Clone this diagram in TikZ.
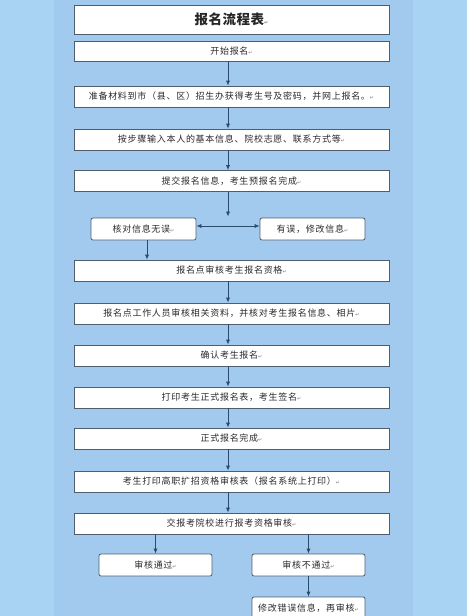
\documentclass[tikz,border=0pt]{standalone}
\usepackage{fontspec}
\usetikzlibrary{arrows.meta}
\newfontfamily\cjk[LetterSpace=8]{Noto Sans CJK SC}
\newfontfamily\cjkt[LetterSpace=4]{Noto Sans CJK SC}
\newfontfamily\symf{DejaVu Sans}
\definecolor{outerbg}{HTML}{A9D3F3}
\definecolor{innerbg}{HTML}{A2CAEE}
\definecolor{bordercol}{HTML}{4E5E6E}
\definecolor{arrcol}{HTML}{2C4A6B}
\definecolor{txtcol}{HTML}{2A2A2A}
\newcommand\retmark{{\symf\fontsize{5}{5}\selectfont\color{gray}↵}}
\begin{document}
\begin{tikzpicture}[x=1pt,y=-1pt,
  box/.style={draw=bordercol, line width=0.8pt, fill=white, inner sep=0pt,
    font=\cjk\fontsize{9}{10}\selectfont, text=txtcol},
  mainbox/.style={box, minimum width=315pt, minimum height=21pt},
  smallbox/.style={box, rounded corners=2pt, minimum width=105pt, minimum height=22pt},
  resbox/.style={box, rounded corners=2pt, minimum width=113pt, minimum height=22pt},
  arr/.style={draw=arrcol, line width=0.8pt, -{Latex[length=5pt,width=4.2pt]}},
  darr/.style={draw=arrcol, line width=0.8pt, {Latex[length=5pt,width=4.2pt]}-{Latex[length=5pt,width=4.2pt]}}]
\useasboundingbox (0,0) rectangle (467,616);
\clip (0,0) rectangle (467,616);
\fill[outerbg] (0,0) rectangle (467,616);
\fill[innerbg] (54,0) rectangle (413,616);

\node[mainbox, minimum height=29pt, font=\cjkt\bfseries\fontsize{13.5}{15}\selectfont, text=black!85] (title) at (231.5,19.5) {报名流程表\retmark};
\node[mainbox, minimum height=20pt] (start) at (231.5,51) {开始报名\retmark};
\node[mainbox] (prep) at (231.5,96.5) {准备材料到市（县、区）招生办获得考生号及密码，并网上报名。\retmark};
\node[mainbox] (input) at (231.5,139.5) {按步骤输入本人的基本信息、院校志愿、联系方式等\retmark};
\node[mainbox] (submit) at (231.5,181) {提交报名信息，考生预报名完成\retmark};
\node[smallbox] (ok) at (143.5,229) {核对信息无误\retmark};
\node[smallbox] (err) at (312.5,229) {有误，修改信息\retmark};
\node[mainbox] (check) at (231.5,270.5) {报名点审核考生报名资格\retmark};
\node[mainbox] (staff) at (231.5,313.5) {报名点工作人员审核相关资料，并核对考生报名信息、相片\retmark};
\node[mainbox] (confirm) at (231.5,355.5) {确认考生报名\retmark};
\node[mainbox] (print) at (231.5,397.5) {打印考生正式报名表，考生签名\retmark};
\node[mainbox] (done) at (231.5,438.5) {正式报名完成\retmark};
\node[mainbox] (table) at (231.5,481.5) {考生打印高职扩招资格审核表（报名系统上打印）\retmark};
\node[mainbox] (send) at (231.5,523.5) {交报考院校进行报考资格审核\retmark};
\node[resbox] (pass) at (155.5,565) {审核通过\retmark};
\node[resbox] (fail) at (308.5,565) {审核不通过\retmark};
\node[resbox] (fix) at (308.5,608) {修改错误信息，再审核\retmark};

\coordinate (junc) at (228,216.5);

\draw[arr] ([xshift=-3.5pt]start.south) -- ([xshift=-3.5pt]prep.north);
\draw[arr] ([xshift=-3.5pt]prep.south) -- ([xshift=-3.5pt]input.north);
\draw[arr] ([xshift=-3.5pt]input.south) -- ([xshift=-3.5pt]submit.north);
\draw[arr] ([xshift=-3.5pt]submit.south) -- (junc);
\draw[darr] ([yshift=3pt]ok.east) -- ([yshift=3pt]err.west);
\draw[arr] ([xshift=3.5pt]ok.south) -- (check.north -| 147,0);
\draw[arr] ([xshift=-3.5pt]check.south) -- ([xshift=-3.5pt]staff.north);
\draw[arr] ([xshift=-3.5pt]staff.south) -- ([xshift=-3.5pt]confirm.north);
\draw[arr] ([xshift=-3.5pt]confirm.south) -- ([xshift=-3.5pt]print.north);
\draw[arr] ([xshift=-3.5pt]print.south) -- ([xshift=-3.5pt]done.north);
\draw[arr] ([xshift=-3.5pt]done.south) -- ([xshift=-3.5pt]table.north);
\draw[arr] ([xshift=-3.5pt]table.south) -- ([xshift=-3.5pt]send.north);
\draw[arr] (send.south -| pass) -- (pass.north);
\draw[arr] (send.south -| fail) -- (fail.north);
\draw[arr] (fail.south) -- (fix.north);
\end{tikzpicture}
\end{document}
